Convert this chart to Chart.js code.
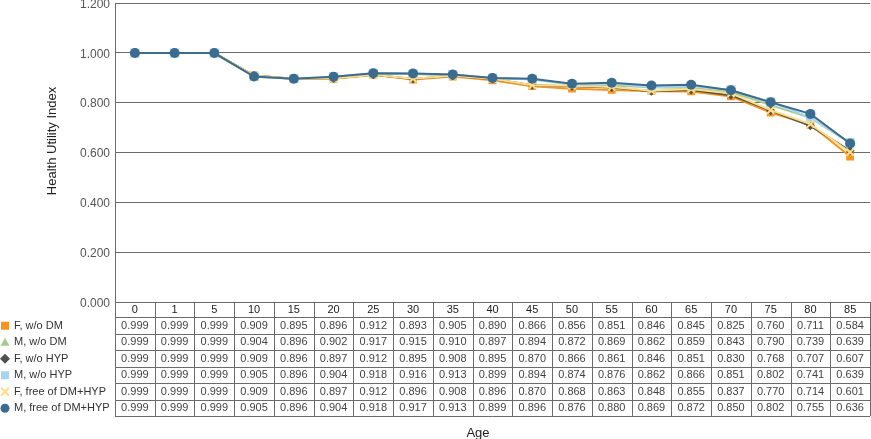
<!DOCTYPE html>
<html>
<head>
<meta charset="utf-8">
<script src="https://cdn.jsdelivr.net/npm/chart.js@4/dist/chart.umd.min.js"></script>
<style>
  html, body { margin: 0; padding: 0; background: #fff; }
  #wrap { width: 871px; height: 439px; position: relative; }
</style>
</head>
<body>
<div id="wrap"><canvas id="chart"></canvas></div>
<script>
// idades (eixo x / cabeçalho da tabela)
const ages = ["0", "1", "5", "10", "15", "20", "25", "30", "35", "40", "45", "50", "55", "60", "65", "70", "75", "80", "85"];
const yTicks = [0, 0.2, 0.4, 0.6, 0.8, 1.0, 1.2];

const fWoDM   = [0.999, 0.999, 0.999, 0.909, 0.895, 0.896, 0.912, 0.893, 0.905, 0.890, 0.866, 0.856, 0.851, 0.846, 0.845, 0.825, 0.760, 0.711, 0.584];
const mWoDM   = [0.999, 0.999, 0.999, 0.904, 0.896, 0.902, 0.917, 0.915, 0.910, 0.897, 0.894, 0.872, 0.869, 0.862, 0.859, 0.843, 0.790, 0.739, 0.639];
const fWoHYP  = [0.999, 0.999, 0.999, 0.909, 0.896, 0.897, 0.912, 0.895, 0.908, 0.895, 0.870, 0.866, 0.861, 0.846, 0.851, 0.830, 0.768, 0.707, 0.607];
const mWoHYP  = [0.999, 0.999, 0.999, 0.905, 0.896, 0.904, 0.918, 0.916, 0.913, 0.899, 0.894, 0.874, 0.876, 0.862, 0.866, 0.851, 0.802, 0.741, 0.639];
const fFree   = [0.999, 0.999, 0.999, 0.909, 0.896, 0.897, 0.912, 0.896, 0.908, 0.896, 0.870, 0.868, 0.863, 0.848, 0.855, 0.837, 0.770, 0.714, 0.601];
const mFree   = [0.999, 0.999, 0.999, 0.905, 0.896, 0.904, 0.918, 0.917, 0.913, 0.899, 0.896, 0.876, 0.880, 0.869, 0.872, 0.850, 0.802, 0.755, 0.636];

const series = [
  { label: "F, w/o DM",          data: fWoDM,  color: "#f7941d", style: "rect",     radius: 5.5 },
  { label: "M, w/o DM",          data: mWoDM,  color: "#a9c98f", style: "triangle", radius: 5 },
  { label: "F, w/o HYP",         data: fWoHYP, color: "#505050", style: "rectRot",  radius: 4.5 },
  { label: "M, w/o HYP",         data: mWoHYP, color: "#a6d5f0", style: "rect",     radius: 6.5 },
  { label: "F, free of DM+HYP",  data: fFree,  color: "#ffde85", style: "crossRot", radius: 5 },
  { label: "M, free of DM+HYP",  data: mFree,  color: "#3b6b8e", style: "circle",   radius: 5 }
];

const GRID = "#6b6b6b";
const FONT = "'Liberation Sans', Arial, sans-serif";

function legendMarker(ctx, s, x, y) {
  ctx.save();
  ctx.fillStyle = s.color;
  ctx.strokeStyle = s.color;
  ctx.lineWidth = 2;
  ctx.beginPath();
  if (s.style === "rect") {
    ctx.fillRect(x - 4, y - 4, 8, 8);
  } else if (s.style === "triangle") {
    ctx.moveTo(x, y - 4.5); ctx.lineTo(x + 4.5, y + 3.5); ctx.lineTo(x - 4.5, y + 3.5); ctx.closePath(); ctx.fill();
  } else if (s.style === "rectRot") {
    ctx.moveTo(x, y - 5); ctx.lineTo(x + 5, y); ctx.lineTo(x, y + 5); ctx.lineTo(x - 5, y); ctx.closePath(); ctx.fill();
  } else if (s.style === "crossRot") {
    ctx.moveTo(x - 4, y - 4); ctx.lineTo(x + 4, y + 4); ctx.moveTo(x + 4, y - 4); ctx.lineTo(x - 4, y + 4); ctx.stroke();
  } else {
    ctx.arc(x, y, 4.5, 0, Math.PI * 2); ctx.fill();
  }
  ctx.restore();
}

// tabela de dados + títulos
const tablePlugin = {
  id: "dataTable",
  afterDraw(chart) {
    const ctx = chart.ctx;
    const x = chart.scales.x;
    const area = chart.chartArea;
    const n = ages.length;
    const colW = (area.right - area.left) / n;
    const headH = 15;
    const rowH = 16.5;
    const top = area.bottom;
    const bottom = top + headH + rowH * series.length;

    ctx.save();
    ctx.strokeStyle = GRID;
    ctx.lineWidth = 1;
    ctx.beginPath();
    for (let i = 0; i <= n; i++) {
      const vx = Math.round(area.left + colW * i) + 0.5;
      ctx.moveTo(vx, top);
      ctx.lineTo(vx, bottom + (i === 0 ? 1 : 0));
    }
    for (let r = 0; r <= series.length; r++) {
      const hy = Math.round(top + headH + rowH * r) + 0.5;
      ctx.moveTo(area.left, hy);
      ctx.lineTo(area.right, hy);
    }
    ctx.stroke();

    ctx.textAlign = "center";
    ctx.textBaseline = "middle";
    ctx.font = "11px " + FONT;
    ctx.fillStyle = "#222";
    ages.forEach((a, i) => ctx.fillText(a, x.getPixelForValue(i), top + headH / 2 + 0.5));

    ctx.font = "11px " + FONT;
    series.forEach((s, r) => {
      const cy = top + headH + rowH * r + rowH / 2 + 0.5;
      ctx.fillStyle = "#444";
      ctx.textAlign = "center";
      s.data.forEach((v, i) => ctx.fillText(v.toFixed(3), x.getPixelForValue(i), cy));
      legendMarker(ctx, s, 5, cy);
      ctx.textAlign = "left";
      ctx.fillStyle = "#333";
      ctx.fillText(s.label, 14, cy);
    });

    // títulos dos eixos
    ctx.fillStyle = "#222";
    ctx.font = "13px " + FONT;
    ctx.textAlign = "center";
    ctx.fillText("Age", 478, 433);
    ctx.translate(52, 141);
    ctx.rotate(-Math.PI / 2);
    ctx.fillText("Health Utility Index", 0, 0);
    ctx.restore();
  }
};

new Chart(document.getElementById("chart"), {
  type: "line",
  data: {
    labels: ages,
    datasets: series.map((s, i) => ({
      label: s.label,
      data: s.data,
      borderColor: s.color,
      backgroundColor: s.color,
      borderWidth: 2,
      pointStyle: s.style,
      pointRadius: s.radius,
      pointBorderWidth: s.style === "crossRot" ? 2 : 0,
      pointBorderColor: s.color,
      tension: 0,
      fill: false,
      order: series.length - i
    }))
  },
  plugins: [tablePlugin],
  options: {
    responsive: true,
    maintainAspectRatio: false,
    animation: false,
    layout: { autoPadding: false, padding: { top: 3, right: 1, bottom: 137, left: 0 } },
    plugins: { legend: { display: false }, tooltip: { enabled: false } },
    scales: {
      x: { display: false, offset: true },
      y: {
        min: 0,
        max: 1.2,
        afterBuildTicks: (scale) => { scale.ticks = yTicks.map(v => ({ value: v })); },
        afterFit: (scale) => {
          scale.width = 115;
          scale.paddingTop = 0;
          scale.paddingBottom = 0;
        },
        grid: { color: GRID, drawTicks: false },
        border: { color: GRID },
        ticks: {
          padding: 5,
          labelOffset: 1.5,
          color: "#555",
          font: { family: FONT, size: 12 },
          callback: (v) => Number(v).toFixed(3)
        }
      }
    }
  }
});
</script>
</body>
</html>
